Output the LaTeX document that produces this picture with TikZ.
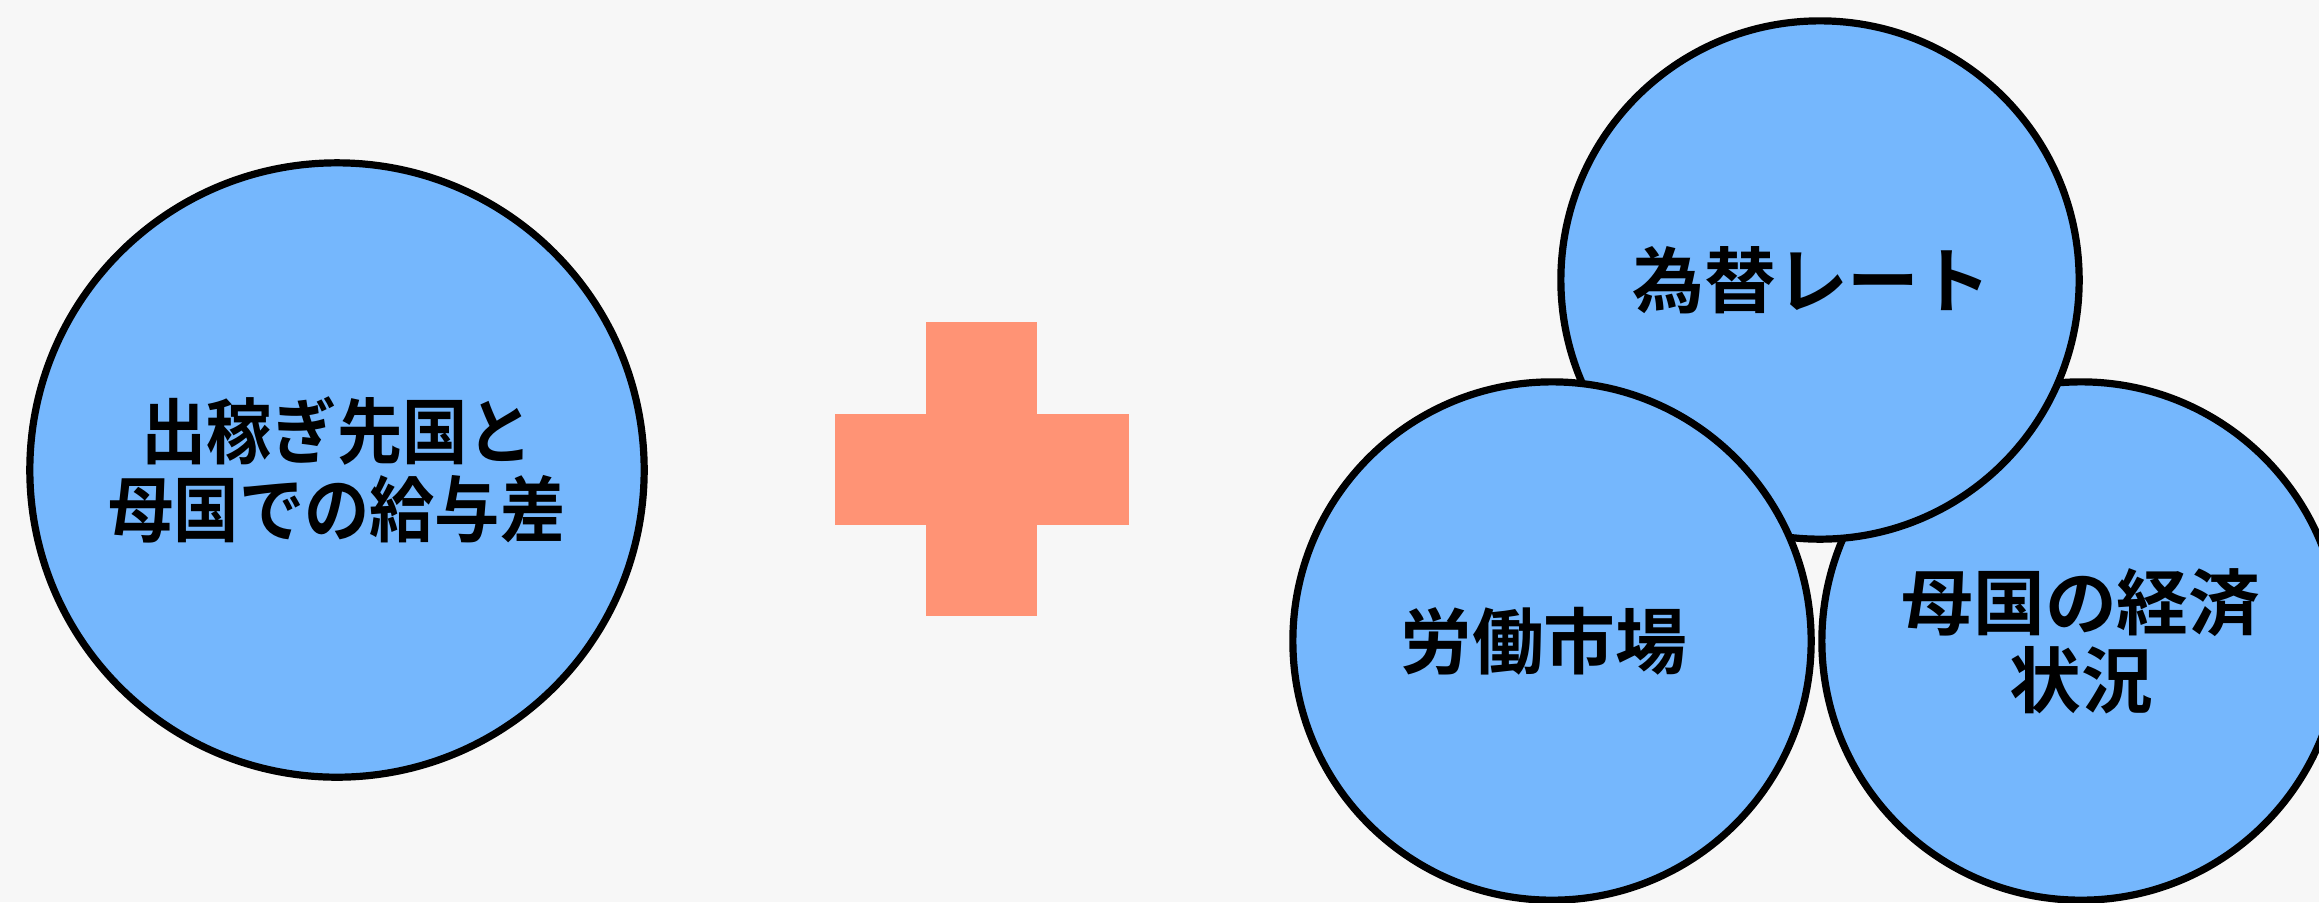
\documentclass[tikz,border=0pt]{standalone}
\usepackage{fontspec}
\usepackage{tikz}
\newfontfamily\jpfont{Noto Sans CJK JP Bold}
\newfontfamily\jpnarrowfont{Noto Sans CJK JP Bold}[FakeStretch=0.91]
\definecolor{bubbleblue}{RGB}{117,183,253}
\definecolor{plussalmon}{RGB}{255,147,117}
\definecolor{paper}{RGB}{247,247,247}

\begin{document}
\begin{tikzpicture}[x = 0.01cm, y = -0.01cm,
    every node/.style = { draw, align = center, shape = circle, line width = 0.072cm, fill = bubbleblue,
      font = \jpfont\fontsize{20.4pt}{22.1pt}\selectfont },
    bigbubble/.style = { minimum size = 6.14cm },
    smallbubble/.style = { minimum size = 5.18cm }]
      \fill [paper] (0,0) rectangle (2319,902);
      \useasboundingbox (0,0) rectangle (2319,902);

      \node [bigbubble, font = \jpnarrowfont\fontsize{20.4pt}{22.1pt}\selectfont] (wage) at (337,470)
        { 出稼ぎ先国と \\ 母国での給与差 };

      % plus sign
      \fill [plussalmon] (926,322) rectangle (1037,616);
      \fill [plussalmon] (835,414) rectangle (1129,525);

      \node [smallbubble] (economy) at (2081,641) { 母国の経済 \\ 状況 };
      \node [smallbubble] (rate) at (1820,280) { 為替レート };
      \node [smallbubble] (labour) at (1552,641) { 労働市場 };

    \end{tikzpicture}
\end{document}
